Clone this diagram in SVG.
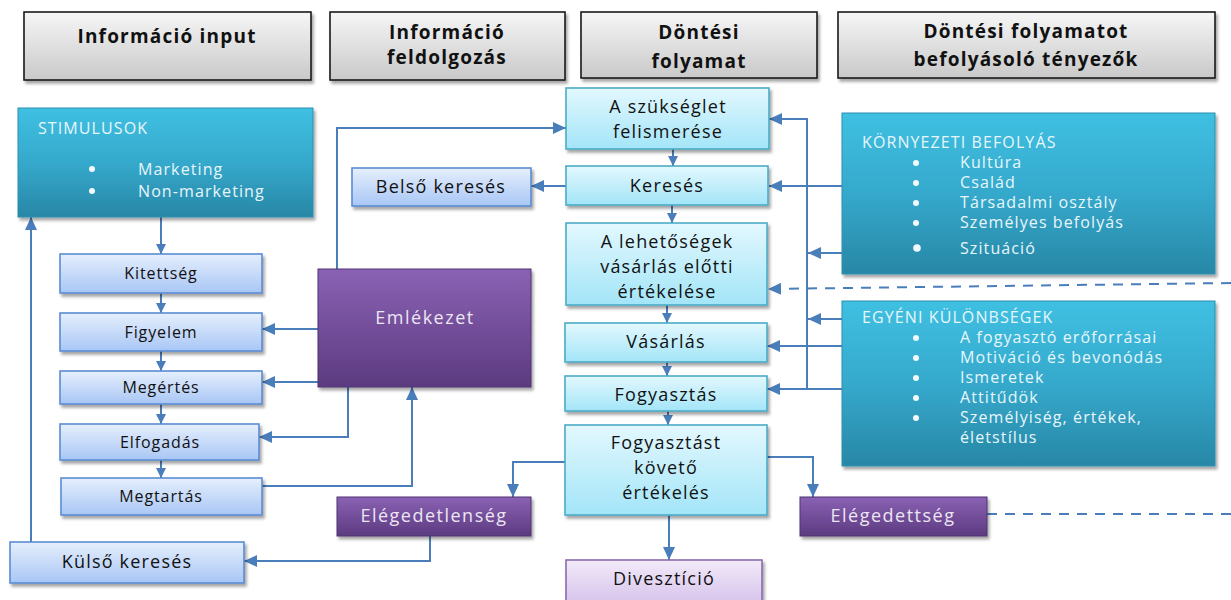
<svg xmlns="http://www.w3.org/2000/svg" width="1231" height="600" viewBox="0 0 1231 600">
<defs>
<linearGradient id="gHdr" x1="0" y1="0" x2="0" y2="1"><stop offset="0" stop-color="#f6f6f6"/><stop offset="1" stop-color="#c9c9c9"/></linearGradient>
<linearGradient id="gBlue" x1="0" y1="0" x2="0" y2="1"><stop offset="0" stop-color="#e6effd"/><stop offset="1" stop-color="#a8c6f5"/></linearGradient>
<linearGradient id="gCyan" x1="0" y1="0" x2="0" y2="1"><stop offset="0" stop-color="#e3f8fe"/><stop offset="1" stop-color="#a3e5f8"/></linearGradient>
<linearGradient id="gTeal" x1="0" y1="0" x2="0" y2="1"><stop offset="0" stop-color="#3fc0e2"/><stop offset="0.5" stop-color="#35a9cc"/><stop offset="1" stop-color="#2887a6"/></linearGradient>
<linearGradient id="gPurple" x1="0" y1="0" x2="0" y2="1"><stop offset="0" stop-color="#8a62b4"/><stop offset="1" stop-color="#5c3a80"/></linearGradient>
<linearGradient id="gLPurple" x1="0" y1="0" x2="0" y2="1"><stop offset="0" stop-color="#f2eaf9"/><stop offset="1" stop-color="#d2bde9"/></linearGradient>
<filter id="sh" x="-10%" y="-10%" width="125%" height="130%"><feDropShadow dx="2" dy="3" stdDeviation="1.8" flood-color="#000" flood-opacity="0.35"/></filter>
<marker id="ah" markerUnits="userSpaceOnUse" markerWidth="14" markerHeight="12" refX="13" refY="6" orient="auto"><path d="M0,0 L13,6 L0,12 z" fill="#4a7ebb"/></marker>
<marker id="as" markerUnits="userSpaceOnUse" markerWidth="11" markerHeight="11" refX="10" refY="5" orient="auto"><path d="M0,0 L10,5 L0,10 z" fill="#4a7ebb"/></marker>
</defs>
<style>
.hdr{fill:url(#gHdr);stroke:#1a1a1a;stroke-width:1.6;filter:url(#sh)}
.blue{fill:url(#gBlue);stroke:#5b8dd3;stroke-width:1.6;filter:url(#sh)}
.cyan{fill:url(#gCyan);stroke:#4bacc6;stroke-width:1.6;filter:url(#sh)}
.teal{fill:url(#gTeal);stroke:#2e8fb0;stroke-width:1;filter:url(#sh)}
.purple{fill:url(#gPurple);stroke:#4e3470;stroke-width:1;filter:url(#sh)}
.lpurple{fill:url(#gLPurple);stroke:#8a6bb0;stroke-width:1.6;filter:url(#sh)}
.ht{font-family:"Open Sans","Noto Sans",sans-serif;font-weight:bold;font-size:19px;fill:#111;text-anchor:middle;letter-spacing:1.2px}
.t{font-family:"Open Sans","Noto Sans",sans-serif;font-size:18px;fill:#111;text-anchor:middle;letter-spacing:1.2px}
.ts{font-family:"Open Sans","Noto Sans",sans-serif;font-size:16px;fill:#111;text-anchor:middle;letter-spacing:0.9px}
.tw{font-family:"Open Sans","Noto Sans",sans-serif;font-size:18px;fill:#ece6f2;text-anchor:middle;letter-spacing:1.5px}
.tt{font-family:"Open Sans","Noto Sans",sans-serif;font-size:16px;fill:#e8f6fb;letter-spacing:1.1px}
.bul{fill:#f2f8fb}
.c{fill:none;stroke:#4a7ebb;stroke-width:2}
.d{fill:none;stroke:#4a7ebb;stroke-width:2;stroke-dasharray:10 8}
</style>

<g id="headers">
<g id="h1"><rect class="hdr" x="24" y="12" width="287" height="68"/><text class="ht" x="167" y="43">Információ input</text></g>
<g id="h2"><rect class="hdr" x="330" y="12" width="235" height="68"/><text class="ht" x="447" y="39">Információ</text><text class="ht" x="447" y="64">feldolgozás</text></g>
<g id="h3"><rect class="hdr" x="581" y="12" width="236" height="66"/><text class="ht" x="699" y="39">Döntési</text><text class="ht" x="699" y="68">folyamat</text></g>
<g id="h4"><rect class="hdr" x="838" y="12" width="377" height="66"/><text class="ht" x="1026" y="38">Döntési folyamatot</text><text class="ht" x="1026" y="66">befolyásoló tényezők</text></g>
</g>

<g id="connectors">
<path class="c" d="M161,217 V254" marker-end="url(#as)"/>
<path class="c" d="M161,293 V313" marker-end="url(#as)"/>
<path class="c" d="M161,351 V371" marker-end="url(#as)"/>
<path class="c" d="M161,404 V424" marker-end="url(#as)"/>
<path class="c" d="M161,460 V478" marker-end="url(#as)"/>
<path class="c" d="M31,542 V217" marker-end="url(#ah)"/>
<path class="c" d="M318,329 H262" marker-end="url(#ah)"/>
<path class="c" d="M318,382 H262" marker-end="url(#ah)"/>
<path class="c" d="M348,387 V437 H259" marker-end="url(#ah)"/>
<path class="c" d="M262,486 H412 V387" marker-end="url(#ah)"/>
<path class="c" d="M337,269 V128 H566" marker-end="url(#ah)"/>
<path class="c" d="M566,186 H531" marker-end="url(#ah)"/>
<path class="c" d="M673,149 V166" marker-end="url(#as)"/>
<path class="c" d="M672,205 V223" marker-end="url(#as)"/>
<path class="c" d="M667,305 V323" marker-end="url(#as)"/>
<path class="c" d="M667,362 V376" marker-end="url(#as)"/>
<path class="c" d="M668,411 V425" marker-end="url(#as)"/>
<path class="c" d="M669,515 V560" marker-end="url(#ah)"/>
<path class="c" d="M565,462 H513 V497" marker-end="url(#ah)"/>
<path class="c" d="M767,457 H813 V497" marker-end="url(#ah)"/>
<path class="c" d="M430,536 V561 H244" marker-end="url(#ah)"/>
<path class="c" d="M807,389 V119 H769" marker-end="url(#ah)"/>
<path class="c" d="M842,186 H769" marker-end="url(#ah)"/>
<path class="c" d="M842,253 H808" marker-end="url(#ah)"/>
<path class="c" d="M842,319 H808" marker-end="url(#ah)"/>
<path class="c" d="M842,346 H767" marker-end="url(#ah)"/>
<path class="c" d="M842,389 H767" marker-end="url(#ah)"/>
<path class="d" d="M1231,283 L768,289" marker-end="url(#ah)"/>
<path class="d" d="M987,514 H1231"/>
</g>

<g id="stimulusok"><rect class="teal" x="18" y="108" width="295" height="109"/>
<text class="tt" x="38" y="134" font-size="17">STIMULUSOK</text>
<circle class="bul" cx="92" cy="169" r="3"/><text class="tt" x="138" y="175" font-size="17">Marketing</text>
<circle class="bul" cx="92" cy="191" r="3"/><text class="tt" x="138" y="197" font-size="17">Non-marketing</text></g>

<g id="kitettseg"><rect class="blue" x="60" y="254" width="202" height="39"/><text class="ts" x="161" y="279">Kitettség</text></g>
<g id="figyelem"><rect class="blue" x="60" y="313" width="202" height="38"/><text class="ts" x="161" y="338">Figyelem</text></g>
<g id="megertes"><rect class="blue" x="60" y="371" width="202" height="33"/><text class="ts" x="161" y="393">Megértés</text></g>
<g id="elfogadas"><rect class="blue" x="60" y="424" width="199" height="36"/><text class="ts" x="160" y="448">Elfogadás</text></g>
<g id="megtartas"><rect class="blue" x="61" y="478" width="201" height="37"/><text class="ts" x="161" y="502">Megtartás</text></g>
<g id="kulso"><rect class="blue" x="10" y="542" width="234" height="41"/><text class="t" x="127" y="568">Külső keresés</text></g>
<g id="belso"><rect class="blue" x="352" y="168" width="179" height="38"/><text class="t" x="441" y="193">Belső keresés</text></g>
<g id="emlekezet"><rect class="purple" x="318" y="269" width="213" height="118"/><text class="tw" x="425" y="324">Emlékezet</text></g>

<g id="szukseglet"><rect class="cyan" x="566" y="88" width="203" height="61"/><text class="t" x="668" y="113">A szükséglet</text><text class="t" x="668" y="138">felismerése</text></g>
<g id="kereses"><rect class="cyan" x="566" y="166" width="202" height="39"/><text class="t" x="667" y="192">Keresés</text></g>
<g id="lehetosegek"><rect class="cyan" x="566" y="223" width="201" height="82"/><text class="t" x="667" y="248">A lehetőségek</text><text class="t" x="667" y="273">vásárlás előtti</text><text class="t" x="667" y="298">értékelése</text></g>
<g id="vasarlas"><rect class="cyan" x="565" y="323" width="202" height="39"/><text class="t" x="666" y="348">Vásárlás</text></g>
<g id="fogyasztas"><rect class="cyan" x="565" y="376" width="202" height="35"/><text class="t" x="666" y="401">Fogyasztás</text></g>
<g id="koveto"><rect class="cyan" x="565" y="425" width="202" height="90"/><text class="t" x="666" y="449">Fogyasztást</text><text class="t" x="666" y="474">követő</text><text class="t" x="666" y="499">értékelés</text></g>
<g id="divesztcio"><rect class="lpurple" x="566" y="560" width="196" height="50"/><text class="t" x="664" y="585">Divesztíció</text></g>
<g id="elegedetlenseg"><rect class="purple" x="337" y="497" width="194" height="39"/><text class="tw" x="434" y="522">Elégedetlenség</text></g>
<g id="elegedettseg"><rect class="purple" x="800" y="497" width="187" height="39"/><text class="tw" x="893" y="522">Elégedettség</text></g>

<g id="kornyezeti"><rect class="teal" x="842" y="113" width="373" height="161"/>
<text class="tt" x="862" y="148">KÖRNYEZETI BEFOLYÁS</text>
<circle class="bul" cx="916" cy="163" r="3"/><text class="tt" x="960" y="168">Kultúra</text>
<circle class="bul" cx="916" cy="183" r="3"/><text class="tt" x="960" y="188">Család</text>
<circle class="bul" cx="916" cy="203" r="3"/><text class="tt" x="960" y="208">Társadalmi osztály</text>
<circle class="bul" cx="916" cy="223" r="3"/><text class="tt" x="960" y="228">Személyes befolyás</text>
<circle class="bul" cx="917" cy="248" r="3.8"/><text class="tt" x="960" y="254">Szituáció</text></g>

<g id="egyeni"><rect class="teal" x="842" y="301" width="373" height="165"/>
<text class="tt" x="862" y="323">EGYÉNI KÜLÖNBSÉGEK</text>
<circle class="bul" cx="916" cy="338" r="3"/><text class="tt" x="960" y="343">A fogyasztó erőforrásai</text>
<circle class="bul" cx="916" cy="358" r="3"/><text class="tt" x="960" y="363">Motiváció és bevonódás</text>
<circle class="bul" cx="916" cy="378" r="3"/><text class="tt" x="960" y="383">Ismeretek</text>
<circle class="bul" cx="916" cy="398" r="3"/><text class="tt" x="960" y="403">Attitűdök</text>
<circle class="bul" cx="916" cy="418" r="3"/><text class="tt" x="960" y="423">Személyiség, értékek,</text>
<text class="tt" x="960" y="443">életstílus</text></g>
</svg>
